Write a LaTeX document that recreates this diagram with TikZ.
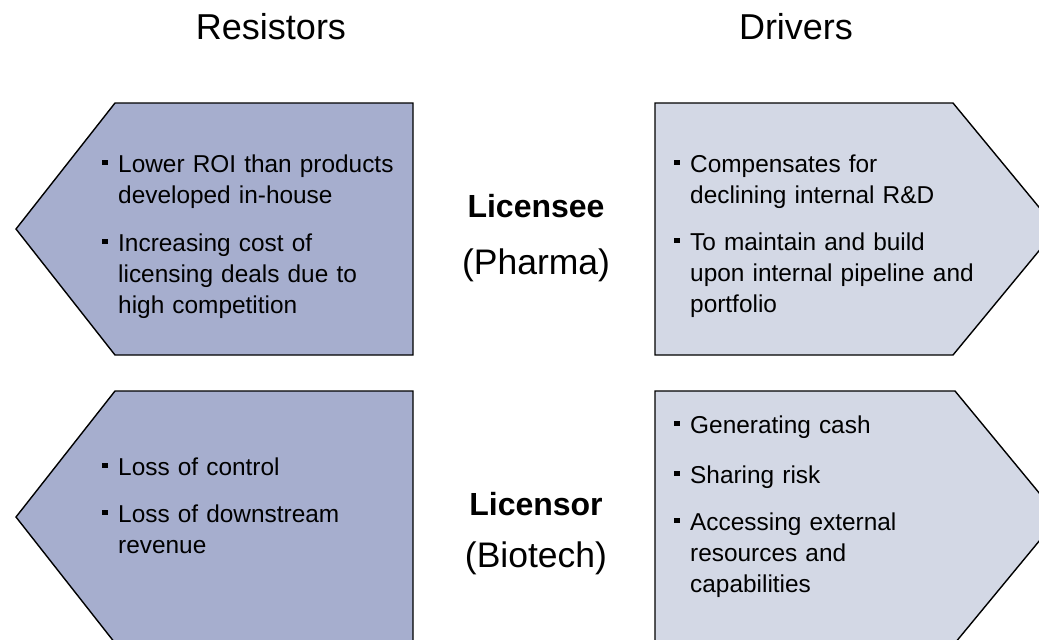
\documentclass[tikz,border=0pt]{standalone}
\usepackage{fontspec}
\setmainfont{Liberation Sans}
\definecolor{resistfill}{RGB}{166,174,206}
\definecolor{drivefill}{RGB}{211,216,229}
% small square bullet hung to the left of the first line
\newcommand\sqbullet{\llap{\raisebox{7pt}{\rule{5.5pt}{5.5pt}}\hspace{10.5pt}}}
\begin{document}
\begin{tikzpicture}[x=1pt,y=-1pt,
  resist/.style={draw=black,line width=1.4pt,fill=resistfill,line join=miter},
  drive/.style={draw=black,line width=1.4pt,fill=drivefill,line join=miter},
  heading/.style={anchor=base,inner sep=0pt,font=\fontsize{36}{43}\selectfont},
  party/.style={anchor=base,inner sep=0pt,font=\bfseries\fontsize{32}{38}\selectfont},
  kind/.style={anchor=base,inner sep=0pt,font=\fontsize{35.5}{42}\selectfont},
  point/.style={anchor=base west,inner sep=0pt,text width=290pt,align=left,
    font=\fontsize{24.4}{31}\selectfont},
]
\clip (0,0) rectangle (1039,640);
\fill[white] (0,0) rectangle (1039,640);

% column headings
\node[heading] (resistors) at (271,39) {Resistors};
\node[heading] (drivers) at (796,39) {Drivers};

% licensee row
\draw[resist] (115,103) -- (413,103) -- (413,355) -- (115,355) -- (16,229) -- cycle;
\draw[drive] (655,103) -- (953,103) -- (1057,229) -- (953,355) -- (655,355) -- cycle;

% licensor row
\draw[resist] (115,391) -- (413,391) -- (413,643) -- (115,643) -- (16,517) -- cycle;
\draw[drive] (655,391) -- (955,391) -- (1059,517) -- (955,643) -- (655,643) -- cycle;

% centre labels
\node[party] (licensee) at (536,217) {Licensee};
\node[kind] (pharma) at (536,274) {(Pharma)};
\node[party] (licensor) at (536,515) {Licensor};
\node[kind] (biotech) at (536,567) {(Biotech)};

% licensee resistors
\node[point] (r1a) at (118,172) {\sqbullet Lower ROI than products\\developed in-house};
\node[point] (r1b) at (118,251) {\sqbullet Increasing cost of\\licensing deals due to\\high competition};

% licensee drivers
\node[point] (d1a) at (690,172) {\sqbullet Compensates for\\declining internal R\&D};
\node[point] (d1b) at (690,250) {\sqbullet To maintain and build\\upon internal pipeline and\\portfolio};

% licensor resistors
\node[point] (r2a) at (118,475) {\sqbullet Loss of control};
\node[point] (r2b) at (118,522) {\sqbullet Loss of downstream\\revenue};

% licensor drivers
\node[point] (d2a) at (690,433) {\sqbullet Generating cash};
\node[point] (d2b) at (690,483) {\sqbullet Sharing risk};
\node[point] (d2c) at (690,530) {\sqbullet Accessing external\\resources and\\capabilities};
\end{tikzpicture}
\end{document}
